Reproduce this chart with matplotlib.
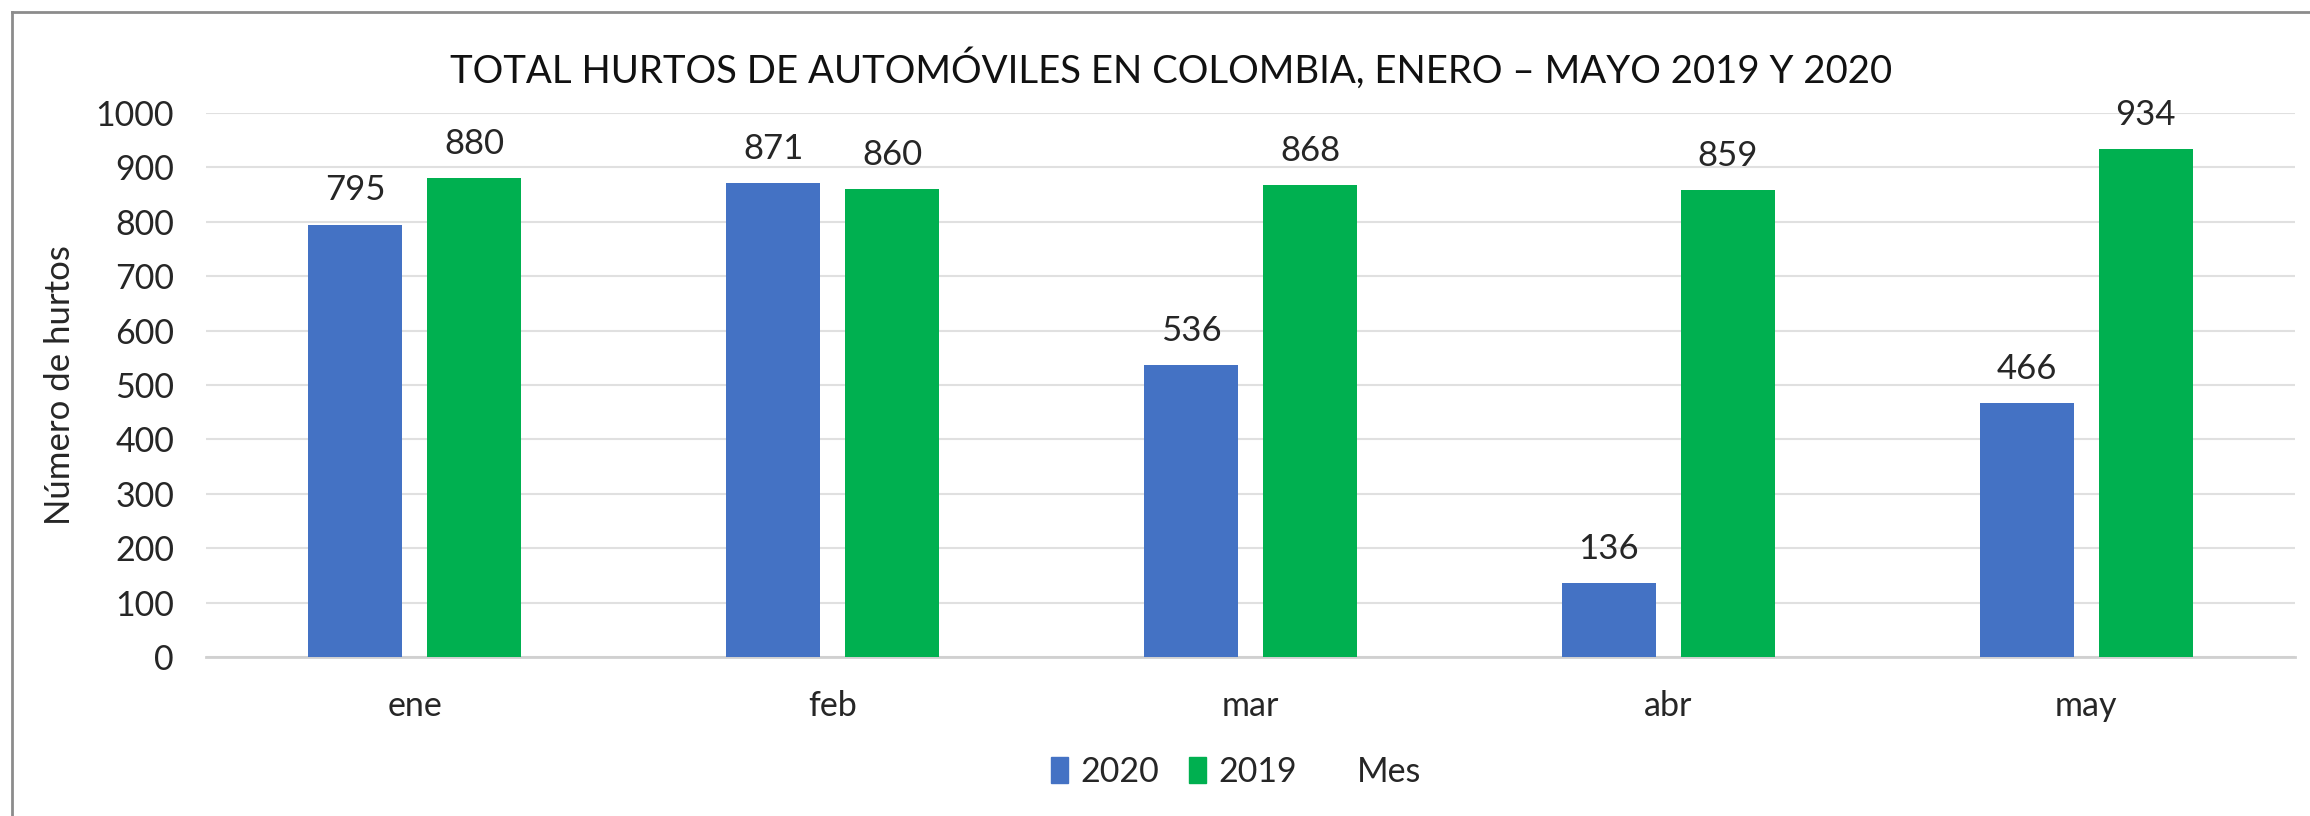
import matplotlib.pyplot as plt
import numpy as np
from matplotlib.patches import Patch
from matplotlib.lines import Line2D

# Datos
meses = ['ene', 'feb', 'mar', 'abr', 'may']
hurtos_2020 = [795, 871, 536, 136, 466]
hurtos_2019 = [880, 860, 868, 859, 934]

azul = '#4472C4'
verde = '#00B050'

plt.rcParams['font.family'] = ['Lato', 'DejaVu Sans']

W, H = 2310, 816
fig = plt.figure(figsize=(W / 100, H / 100), dpi=100)
ax = fig.add_axes([206 / W, 1 - 657 / H, (2295 - 206) / W, (657 - 113) / H])

x = np.arange(len(meses))
ancho = 0.225
desp = 0.1425
b1 = ax.bar(x - desp, hurtos_2020, ancho, color=azul, zorder=3)
b2 = ax.bar(x + desp, hurtos_2019, ancho, color=verde, zorder=3)

for barras in (b1, b2):
    ax.bar_label(barras, padding=13, fontsize=25, color='#262626')

ax.set_xlim(-0.5, len(meses) - 0.5)
ax.set_ylim(0, 1000)
ax.set_yticks(range(0, 1001, 100))
ax.set_xticks(x)
ax.set_xticklabels(meses)
ax.tick_params(axis='both', length=0, labelsize=24.5, labelcolor='#262626')
ax.tick_params(axis='y', pad=23)
ax.tick_params(axis='x', pad=24)

ax.grid(axis='y', color='#E0E0E0', linewidth=1.5, zorder=0)
for s in ['top', 'right', 'left']:
    ax.spines[s].set_visible(False)
ax.spines['bottom'].set_color('#D0D0D0')
ax.spines['bottom'].set_linewidth(2)

ax.set_ylabel('Número de hurtos', fontsize=25, color='#262626')
ax.yaxis.set_label_coords(-0.062, 0.5)

fig.text(1171 / W, 1 - 69 / H, 'TOTAL HURTOS DE AUTOMÓVILES EN COLOMBIA, ENERO – MAYO 2019 Y 2020',
         ha='center', va='center', fontsize=27.6, color='#111111')

handles = [Patch(color=azul), Patch(color=verde), Patch(facecolor='none', edgecolor='none')]
fig.legend(handles, ['2020', '2019', 'Mes'], loc='center', bbox_to_anchor=(1236 / W, 1 - 772 / H),
           ncol=3, frameon=False, fontsize=24.5, handlelength=0.5, handleheight=0.8,
           handletextpad=0.35, columnspacing=0.9, labelcolor='#262626')

# marco del gráfico
fig.add_artist(Line2D([12 / W, 12 / W], [0, 1 - 12 / H], color='#8C8C8C', linewidth=2))
fig.add_artist(Line2D([12 / W, 1], [1 - 12 / H, 1 - 12 / H], color='#8C8C8C', linewidth=2))

fig.savefig('out.png', dpi=100)
